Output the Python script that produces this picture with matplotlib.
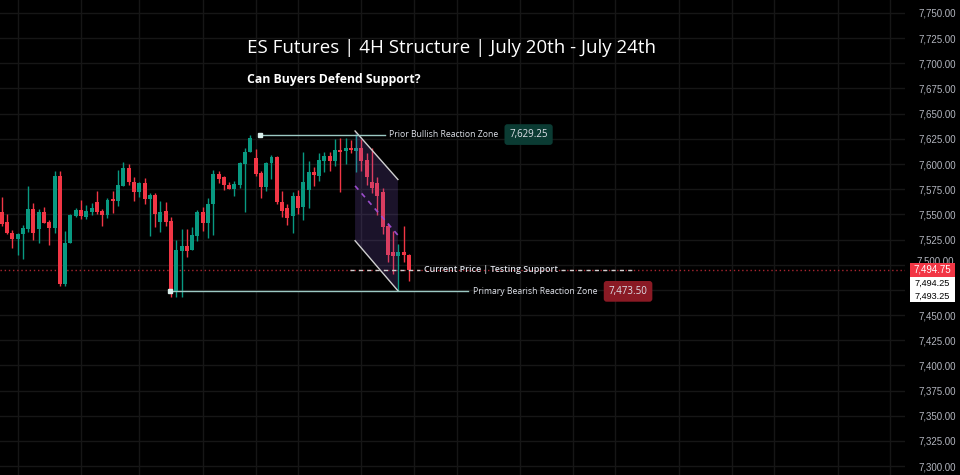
import matplotlib
matplotlib.use("Agg")
import matplotlib.pyplot as plt
from matplotlib.patches import Polygon, Rectangle
import numpy as np

# 4H candles, ES futures
opens = [7552, 7542, 7531, 7526, 7530, 7535, 7555, 7535, 7552, 7542,
         7536, 7588, 7481, 7522, 7548, 7554, 7547, 7552, 7562, 7553,
         7549, 7565, 7563, 7578, 7596, 7582, 7572, 7581, 7565, 7569,
         7542, 7553, 7543, 7473, 7514, 7519, 7515, 7528, 7552, 7541,
         7560, 7590, 7587, 7579, 7575, 7579, 7600, 7612, 7606, 7591,
         7577, 7601, 7607, 7562, 7556, 7548, 7568, 7557, 7574, 7592,
         7588, 7603, 7608, 7603, 7614, 7613, 7616, 7613, 7616, 7604,
         7582, 7581, 7572, 7538, 7513, 7509, 7513, 7510]
highs = [7567, 7550, 7534, 7531, 7539, 7578, 7561, 7555, 7557, 7544,
         7593, 7593, 7533, 7550, 7556, 7564, 7559, 7561, 7573, 7555,
         7566, 7573, 7594, 7602, 7600, 7587, 7582, 7586, 7571, 7571,
         7563, 7562, 7547, 7525, 7535, 7535, 7537, 7554, 7557, 7566,
         7594, 7593, 7588, 7582, 7583, 7602, 7616, 7629.25, 7615, 7593,
         7602, 7609, 7608, 7573, 7560, 7572, 7574, 7612, 7603, 7597,
         7611, 7612, 7612, 7625, 7626, 7626, 7624, 7630, 7625, 7611,
         7616, 7587, 7576, 7541, 7533, 7521, 7538, 7511]
lows = [7538, 7530, 7517, 7510, 7506, 7532, 7525, 7522, 7541, 7520,
        7531, 7479, 7479, 7522, 7547, 7545, 7545, 7549, 7550, 7538,
        7546, 7551, 7558, 7578, 7579, 7563, 7567, 7560, 7528, 7537,
        7532, 7538, 7468, 7468, 7468, 7508, 7515, 7524, 7533, 7527,
        7529, 7581, 7574, 7575, 7568, 7576, 7552, 7612, 7588, 7566,
        7573, 7585, 7560, 7547, 7539, 7531, 7550, 7544, 7556, 7578,
        7583, 7592, 7593, 7598, 7572, 7600, 7611, 7592, 7593, 7579,
        7571, 7549, 7530, 7503, 7491, 7474, 7503, 7484]
closes = [7540, 7531, 7526, 7530, 7536, 7555, 7531, 7552, 7541, 7536,
          7588, 7481, 7522, 7549, 7554, 7548, 7553, 7556, 7552, 7549,
          7564, 7563, 7579, 7596, 7582, 7572, 7581, 7565, 7569, 7550,
          7552, 7542, 7475, 7515, 7519, 7514, 7529, 7552, 7541, 7560,
          7590, 7585, 7579, 7575, 7580, 7601, 7612, 7626, 7590, 7577,
          7601, 7607, 7562, 7553, 7546, 7568, 7556, 7582, 7592, 7589,
          7604, 7608, 7603, 7614, 7612, 7616, 7614, 7616, 7603, 7587,
          7576, 7568, 7537, 7510, 7509, 7513, 7510, 7494.75]

price_ticks = list(range(7300, 7751, 25))
time_grid = [3, 15, 26, 38, 48, 56, 68, 78, 86, 98, 108, 116, 128, 138, 146, 158, 168]

bull_level = 7629.25
bear_level = 7473.50
last_price = 7494.75
side_labels = ["7,494.25", "7,493.25"]

GREEN = "#089981"
RED = "#f23645"
TXT = "#dfe2ea"

fig = plt.figure(figsize=(9.6, 4.75), dpi=100, facecolor="#000000")
ax = fig.add_axes([0, 0, 905 / 960, 1])
ax.set_facecolor("#000000")
ax.set_xlim(-0.32, 170.75)
ax.set_ylim(7291.1, 7762.9)

for t in time_grid:
    ax.axvline(t, color="#161616", lw=1, zorder=0)
for p in price_ticks:
    ax.axhline(p, color="#161616", lw=1, zorder=0)

x = np.arange(len(opens))
o = np.array(opens); h = np.array(highs); l = np.array(lows); c = np.array(closes)
cols = np.where(c >= o, GREEN, RED)
ax.vlines(x, l, h, colors=cols, lw=1, zorder=2)
ax.bar(x, np.maximum(np.abs(c - o), 0.8), bottom=np.minimum(o, c), width=0.75,
       color=cols, zorder=3)

# current price dotted line
ax.axhline(last_price, color=RED, lw=1, ls=(0, (1, 2)), alpha=0.7, zorder=1)

# falling channel
chan = Polygon([(66.8, 7632.8), (74.9, 7584.6), (74.9, 7474.1), (66.8, 7523.8)],
               closed=True, facecolor="#7e57c2", alpha=0.22, edgecolor="none", zorder=4)
ax.add_patch(chan)
ax.plot([66.8, 74.9], [7632.8, 7584.6], color="#d0d0d0", lw=1, zorder=5)
ax.plot([66.8, 74.9], [7523.8, 7474.1], color="#d0d0d0", lw=1, zorder=5)
ax.plot([66.8, 74.9], [7578.3, 7529.3], color="#9c4dcc", lw=1.2, ls=(0, (3, 3)), zorder=5)

# prior bullish reaction zone
ax.plot([48.8, 72.4], [bull_level, bull_level], color="#9cc9c3", lw=1, zorder=5)
ax.plot([48.8], [bull_level], marker="s", ms=3.5, color="#d8eeea", zorder=6)
ax.text(73.2, bull_level, "Prior Bullish Reaction Zone", color=TXT, fontsize=6.2,
        family="Open Sans", va="center", ha="left", zorder=6)
ax.text(99.6, bull_level, f"{bull_level:,.2f}", color=TXT, fontsize=7,
        family="Open Sans", va="center", ha="center", zorder=6,
        bbox=dict(boxstyle="round,pad=0.5,rounding_size=0.3", fc="#0b3b33", ec="none"))

# primary bearish reaction zone
ax.plot([31.8, 88.1], [bear_level, bear_level], color="#9cc9c3", lw=1, zorder=5)
ax.plot([31.8], [bear_level], marker="s", ms=3.5, color="#d8eeea", zorder=6)
ax.text(89.1, bear_level, "Primary Bearish Reaction Zone", color=TXT, fontsize=6.2,
        family="Open Sans", va="center", ha="left", zorder=6)
ax.text(118.4, bear_level, f"{bear_level:,.2f}", color=TXT, fontsize=7,
        family="Open Sans", va="center", ha="center", zorder=6,
        bbox=dict(boxstyle="round,pad=0.5,rounding_size=0.3", fc="#8a1a24", ec="none"))

# current price callout
ax.plot([65.8, 79.1], [last_price, last_price], color="#cfcfcf", lw=1, ls=(0, (3, 3)), zorder=5)
ax.plot([105.8, 119.7], [last_price, last_price], color="#cfcfcf", lw=1, ls=(0, (3, 3)), zorder=5)
ax.text(79.8, last_price, "Current Price | Testing Support", color=TXT, fontsize=6.4,
        family="Open Sans", weight="semibold", va="center", ha="left", zorder=6)

# price axis (7,500 and 7,475 sit under the price tags)
hidden = (7500, 7475)
ax.yaxis.tick_right()
ax.set_yticks(price_ticks)
ax.set_yticklabels([f"{p:,.2f}" if p not in hidden else "" for p in price_ticks],
                   family="Liberation Sans", fontsize=7, color="#b2b5be")
ax.tick_params(axis="y", length=0, pad=10)
ax.set_xticks([])
for s in ax.spines.values():
    s.set_visible(False)

# 7,500.00 label mostly hidden under the last-price tag
fig.text(916 / 960, 1 - 261 / 475, "7,500.00", color="#b2b5be", fontsize=7,
         family="Liberation Sans", ha="left", va="center", zorder=1)

# last price and side labels on axis
fig.patches.append(Rectangle((910 / 960, 1 - 277 / 475), 45 / 960, 14 / 475,
                             transform=fig.transFigure, fc=RED, ec="none", zorder=5))
fig.text(932.5 / 960, 1 - 270 / 475, f"{last_price:,.2f}", color="white", fontsize=7,
         family="Liberation Sans", ha="center", va="center", zorder=6)
fig.patches.append(Rectangle((910 / 960, 1 - 302 / 475), 45 / 960, 25 / 475,
                             transform=fig.transFigure, fc="white", ec="none", zorder=5))
fig.text(932.5 / 960, 1 - 283.5 / 475, side_labels[0], color="black", fontsize=6.6,
         family="Liberation Sans", ha="center", va="center", zorder=6)
fig.text(932.5 / 960, 1 - 296 / 475, side_labels[1], color="black", fontsize=6.6,
         family="Liberation Sans", ha="center", va="center", zorder=6)

# titles
fig.text(247 / 960, 1 - 48 / 475, "ES Futures | 4H Structure | July 20th - July 24th",
         color="white", fontsize=13.5, family="Open Sans", ha="left", va="center")
fig.text(247 / 960, 1 - 80 / 475, "Can Buyers Defend Support?", color="white",
         fontsize=8.8, family="Open Sans", weight="bold", ha="left", va="center")

fig.savefig("out.png", dpi=100, facecolor=fig.get_facecolor())
